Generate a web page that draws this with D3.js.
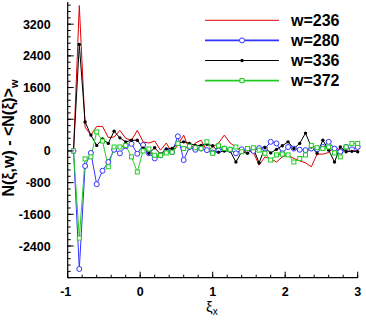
<!DOCTYPE html>
<html>
<head>
<meta charset="utf-8">
<script src="https://cdn.jsdelivr.net/npm/d3@7"></script>
<style>
  body { margin: 0; background: #fff; }
  svg { display: block; font-family: "Liberation Sans", Arial, sans-serif; }
</style>
</head>
<body>
<div id="chart"></div>
<script>
// sample positions along xi_x
const xiValues = d3.range(50).map(i => +(-0.92 + 0.08 * i).toFixed(2));

// series values
const w236 = [0, 3670, 600, 400, 620, 620, 340, 350, 520, 320,
  270, 520, 230, 200, 250, 20, 200, -50, 150, 400,
  20, 200, 270, 0, 100, 200, 400, 200, 100, -20,
  0, -30, -360, -150, -200, -280, -150, -110, -190, -250,
  -300, -400, -80, -80, -40, 100, 20, 0, 0, 20];
const w280 = [0, -2980, -380, -50, -840, -500, -280, 30, -60, 120,
  180, -70, 150, -60, -190, -110, 0, -30, 370, -230,
  100, 30, 60, 20, -40, 10, 60, 30, -60, 40,
  20, 0, 70, 60, 230, 190, -60, 100, 60, 30,
  20, 60, 40, 100, 230, 60, -20, 100, 40, 100];
const w336 = [0, 2690, 730, 400, 140, 300, 190, 500, 330, 230,
  270, 270, 70, -60, 80, -80, 50, 60, 200, 230,
  190, 140, 140, 170, 130, -30, 0, 0, -280, -20,
  -60, 70, -300, 80, -50, 40, 130, 230, 60, 190,
  450, 100, -60, 270, 20, -280, 100, -20, -10, -20];
const w372 = [0, -2200, -200, -150, 480, 250, -400, 100, 100, 140,
  -150, -530, 0, 50, -110, -110, -50, -30, 190, 60,
  120, 80, 60, 230, -60, 130, 60, 40, 100, -20,
  60, 80, 20, -60, -230, -100, -80, -100, -280, -190,
  -100, 140, 80, 60, 100, -50, -150, 100, 190, 190];

const seriesNames = ['w=236', 'w=280', 'w=336', 'w=372'];
const xTicks = [-1, 0, 1, 2, 3];
const yTicks = [-2400, -1600, -800, 0, 800, 1600, 2400, 3200];

const width = 366, height = 322;

const series = [
  { name: seriesNames[0], values: w236, color: '#e00000', marker: 'none' },
  { name: seriesNames[1], values: w280, color: '#3333ff', marker: 'circle' },
  { name: seriesNames[2], values: w336, color: '#000000', marker: 'dot' },
  { name: seriesNames[3], values: w372, color: '#22cc22', marker: 'square' }
];

const svg = d3.select('#chart').append('svg')
  .attr('width', width)
  .attr('height', height);

const x = d3.scaleLinear().domain([-1, 3]).range([67.7, 357.7]);
const y = d3.scaleLinear().domain([-3200, 3760]).range([277.7, 2]);

// data lines
const line = d3.line()
  .x((d, i) => x(xiValues[i]))
  .y(d => y(d));

const plot = svg.append('g');

function drawMarker(g, s, cx, cy) {
  if (s.marker === 'circle') {
    g.append('circle').attr('cx', cx).attr('cy', cy).attr('r', 2.5)
      .attr('fill', '#fff').attr('stroke', s.color).attr('stroke-width', 1);
  } else if (s.marker === 'dot') {
    g.append('circle').attr('cx', cx).attr('cy', cy).attr('r', 1.7)
      .attr('fill', s.color);
  } else if (s.marker === 'square') {
    g.append('rect').attr('x', cx - 2).attr('y', cy - 2)
      .attr('width', 4).attr('height', 4)
      .attr('fill', '#fff').attr('stroke', s.color).attr('stroke-width', 1);
  }
}

series.forEach(s => {
  plot.append('path')
    .datum(s.values)
    .attr('d', line)
    .attr('fill', 'none')
    .attr('stroke', s.color)
    .attr('stroke-width', 1);
});
series.forEach(s => {
  const mg = plot.append('g');
  s.values.forEach((v, i) => drawMarker(mg, s, x(xiValues[i]), y(v)));
});

// axes with inward ticks
const xAxis = svg.append('g').attr('transform', `translate(0,${y.range()[0]})`);
xAxis.append('line')
  .attr('x1', x.range()[0]).attr('x2', x.range()[1])
  .attr('stroke', '#000').attr('stroke-width', 1.2);
xAxis.selectAll('.minor')
  .data(d3.range(-1, 3.001, 0.2))
  .join('line')
  .attr('x1', d => x(d)).attr('x2', d => x(d))
  .attr('y1', 0).attr('y2', -3)
  .attr('stroke', '#000');
xAxis.selectAll('.major')
  .data(xTicks)
  .join('line')
  .attr('x1', d => x(d)).attr('x2', d => x(d))
  .attr('y1', 0).attr('y2', -6)
  .attr('stroke', '#000');
xAxis.selectAll('text')
  .data(xTicks)
  .join('text')
  .attr('x', d => x(d) - (d < 0 ? 2 : 0))
  .attr('y', 18)
  .attr('text-anchor', 'middle')
  .attr('font-size', '12.5px')
  .attr('font-weight', 'bold')
  .text(d => d);

const yAxis = svg.append('g').attr('transform', `translate(${x.range()[0]},0)`);
yAxis.append('line')
  .attr('y1', y.range()[0]).attr('y2', y.range()[1])
  .attr('stroke', '#000').attr('stroke-width', 1.2);
yAxis.selectAll('.minor')
  .data(d3.range(-3200, 3700, 160))
  .join('line')
  .attr('y1', d => y(d)).attr('y2', d => y(d))
  .attr('x1', 0).attr('x2', 3)
  .attr('stroke', '#000');
yAxis.selectAll('.major')
  .data(yTicks)
  .join('line')
  .attr('y1', d => y(d)).attr('y2', d => y(d))
  .attr('x1', 0).attr('x2', 6)
  .attr('stroke', '#000');
yAxis.selectAll('text')
  .data(yTicks)
  .join('text')
  .attr('x', -17)
  .attr('y', d => y(d))
  .attr('dy', '0.36em')
  .attr('text-anchor', 'end')
  .attr('font-size', '12.5px')
  .attr('font-weight', 'bold')
  .text(d => d);

// axis titles
const yTitle = svg.append('text')
  .attr('transform', 'translate(14,138) rotate(-90)')
  .attr('text-anchor', 'middle')
  .attr('font-size', '16px')
  .attr('font-weight', 'bold');
yTitle.append('tspan').text('N(ξ,w) - <N(ξ)>');
yTitle.append('tspan').attr('font-size', '11px').attr('dy', 4).text('w');

const xTitle = svg.append('text')
  .attr('x', 206)
  .attr('y', 312)
  .attr('font-size', '15px');
xTitle.append('tspan').text('ξ');
xTitle.append('tspan').attr('font-size', '10px').attr('dy', 3).text('x');

// legend
const legend = svg.append('g');
series.forEach((s, i) => {
  const ly = 20.3 + i * 20.1;
  legend.append('line')
    .attr('x1', 205).attr('x2', 279)
    .attr('y1', ly).attr('y2', ly)
    .attr('stroke', s.color)
    .attr('stroke-width', s.marker === 'square' || s.marker === 'circle' ? 1.6 : 1);
  drawMarker(legend, s, 242, ly);
  legend.append('text')
    .attr('x', 291)
    .attr('y', ly)
    .attr('dy', '0.36em')
    .attr('font-size', '16px')
    .attr('font-weight', 'bold')
    .text(s.name);
});
</script>
</body>
</html>
